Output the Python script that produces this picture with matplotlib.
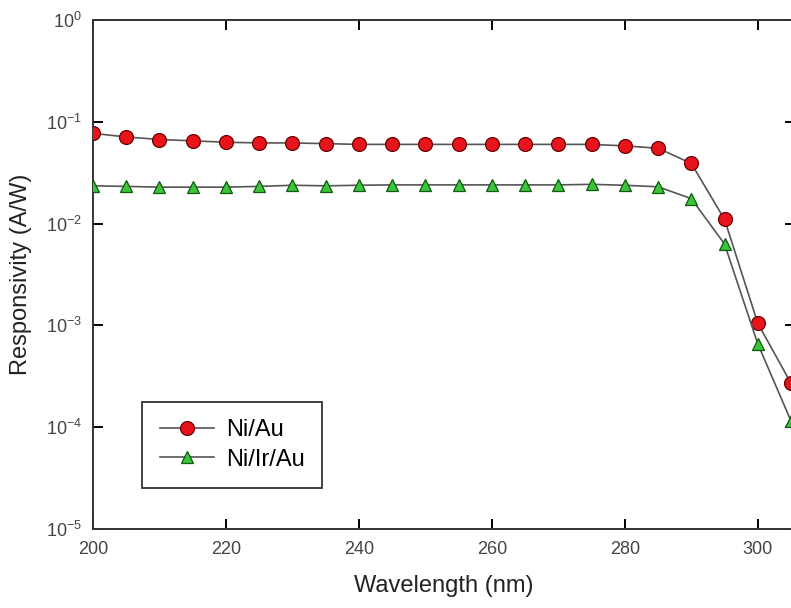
import matplotlib
matplotlib.use("Agg")
import matplotlib.pyplot as plt
import numpy as np

# wavelength (nm) and responsivity (A/W)
wavelength = [200, 205, 210, 215, 220, 225, 230, 235, 240, 245, 250, 255,
              260, 265, 270, 275, 280, 285, 290, 295, 300, 305]
ni_au = [0.077, 0.071, 0.067, 0.065, 0.063, 0.062, 0.062, 0.061, 0.060, 0.060, 0.060, 0.060,
         0.060, 0.060, 0.060, 0.060, 0.058, 0.055, 0.039, 0.011, 0.00105, 0.00027]
ni_ir_au = [0.0235, 0.0232, 0.0228, 0.0228, 0.0228, 0.0232, 0.0238, 0.0235, 0.0238, 0.0240, 0.0240, 0.0240,
            0.0240, 0.0240, 0.0240, 0.0243, 0.0238, 0.0230, 0.0176, 0.0063, 0.00066, 0.000115]
xticks = [200, 220, 240, 260, 280, 300]

plt.rcParams['font.family'] = ['Liberation Sans', 'DejaVu Sans']
plt.rcParams['mathtext.fontset'] = 'custom'
plt.rcParams['mathtext.rm'] = 'Liberation Sans'
plt.rcParams['mathtext.it'] = 'Liberation Sans:italic'

fig = plt.figure(figsize=(7.91, 6.08), dpi=100)
ax = fig.add_axes([93/791, 1 - 529/608, 702/791, 509/608])

ax.plot(wavelength, ni_au, '-', color='#555555', lw=1.2, marker='o', ms=10,
        mfc='#e8141c', mec='#6a0000', mew=0.9, label='Ni/Au', zorder=3)
ax.plot(wavelength, ni_ir_au, '-', color='#555555', lw=1.2, marker='^', ms=9,
        mfc='#3cc43c', mec='#0b5a0b', mew=0.9, label='Ni/Ir/Au', zorder=3)

ax.set_yscale('log')
ax.set_ylim(1e-5, 1)
ax.set_xlim(200, 305.6)
ax.set_xticks(xticks)
ax.set_yticks([1e-5, 1e-4, 1e-3, 1e-2, 1e-1, 1])
ax.minorticks_off()
ax.tick_params(direction='in', length=7, width=1.4, top=True, right=True,
               labelsize=13, labelcolor='#444444')
ax.tick_params(axis='x', pad=9)
ax.tick_params(axis='y', pad=8)
for s in ax.spines.values():
    s.set_linewidth(1.4)
    s.set_color('#333333')

ax.set_xlabel('Wavelength (nm)', fontsize=17, color='#222222', labelpad=12)
ax.set_ylabel('Responsivity (A/W)', fontsize=17, color='#222222', labelpad=10)

leg = ax.legend(loc='lower left', bbox_to_anchor=(0.07, 0.08), borderaxespad=0,
                fancybox=False, edgecolor='#333333', fontsize=17, handlelength=2.3,
                handletextpad=0.5, borderpad=0.75, labelspacing=0.3, framealpha=1)
leg.get_frame().set_linewidth(1.3)

fig.savefig('out.png', dpi=100)
